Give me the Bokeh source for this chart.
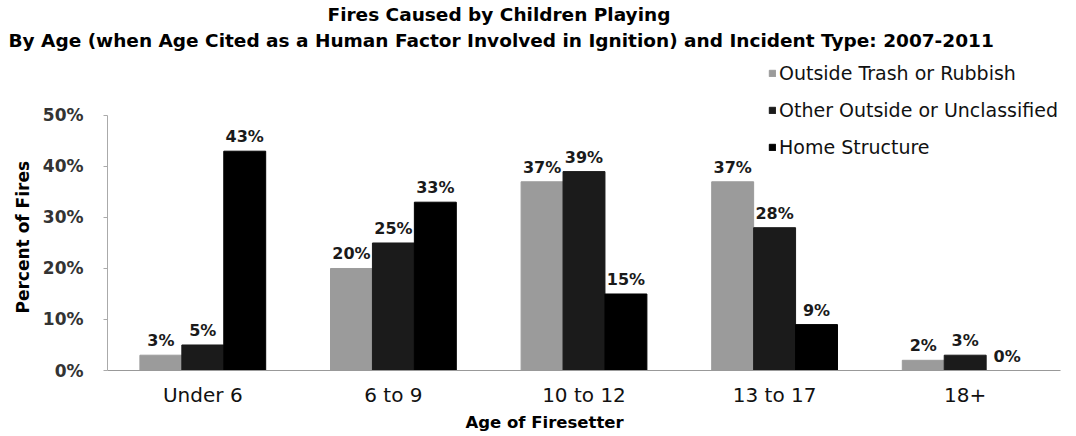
from bokeh.plotting import figure
from bokeh.models import (ColumnDataSource, FactorRange, Range1d, FixedTicker,
                          PrintfTickFormatter, Title, Legend, LegendItem)
from bokeh.transform import dodge
from bokeh.core.properties import value
from bokeh.embed import file_html
from bokeh.resources import INLINE

categories = ["Under 6", "6 to 9", "10 to 12", "13 to 17", "18+"]
series_names = ["Outside Trash or Rubbish", "Other Outside or Unclassified", "Home Structure"]
outside_trash = [3, 20, 37, 37, 2]
other_outside = [5, 25, 39, 28, 3]
home_structure = [43, 33, 15, 9, 0]
y_ticks = [0, 10, 20, 30, 40, 50]

colors = ["#9b9b9b", "#1b1b1b", "#000000"]
offsets = [-0.22, 0.0, 0.22]
series = [outside_trash, other_outside, home_structure]

FONT = "DejaVu Sans"
FRAME_TOP = 54.5
FRAME_BOTTOM = 370
Y_END = (FRAME_BOTTOM - FRAME_TOP) / 5.06

p = figure(x_range=FactorRange(*categories), y_range=Range1d(0, Y_END),
           width=1076, height=436, output_backend="svg", toolbar_location=None,
           min_border_left=107, min_border_right=16, min_border_top=0,
           min_border_bottom=66)
p.outline_line_color = None
p.xgrid.grid_line_color = None
p.ygrid.grid_line_color = None
p.background_fill_color = "white"

renderers = []
for name, vals, col, off in zip(series_names, series, colors, offsets):
    src = ColumnDataSource(dict(cat=categories, val=vals,
                                lab=[f"{v}%" for v in vals]))
    r = p.vbar(x=dodge("cat", off, range=p.x_range), top="val", width=0.22,
               source=src, fill_color=col, line_color=col)
    renderers.append((name, r))
    p.text(x=dodge("cat", off, range=p.x_range), y="val", text="lab", source=src,
           y_offset=-5, text_align="center", text_baseline="bottom",
           text_font=value(FONT), text_font_style="bold",
           text_font_size="16px", text_color="#1a1a1a")

# axes
p.yaxis.ticker = FixedTicker(ticks=y_ticks)
p.yaxis.bounds = (0, 50)
p.yaxis.formatter = PrintfTickFormatter(format="%d%%")
p.yaxis.axis_line_color = "#aaaaaa"
p.yaxis.major_tick_line_color = "#aaaaaa"
p.yaxis.major_tick_out = 4
p.yaxis.major_tick_in = 0
p.yaxis.minor_tick_line_color = None
p.yaxis.major_label_standoff = 20
p.yaxis.major_label_text_font = FONT
p.yaxis.major_label_text_font_style = "bold"
p.yaxis.major_label_text_font_size = "17px"
p.yaxis.major_label_text_color = "#333333"

p.xaxis.axis_line_color = "#999999"
p.xaxis.major_tick_line_color = None
p.xaxis.major_tick_out = 0
p.xaxis.major_tick_in = 0
p.xaxis.minor_tick_line_color = None
p.xaxis.major_label_standoff = 12
p.xaxis.major_label_text_font = FONT
p.xaxis.major_label_text_font_size = "20px"
p.xaxis.major_label_text_color = "#111111"

# titles (later-added "above" titles go on top)
p.add_layout(Title(text="By Age (when Age Cited as a Human Factor Involved in Ignition) and Incident Type: 2007-2011",
                   align="left", offset=-99, standoff=4,
                   text_font=FONT, text_font_style="bold", text_font_size="18.5px",
                   text_color="#000000"), "above")
p.add_layout(Title(text="Fires Caused by Children Playing",
                   align="left", offset=220, standoff=2,
                   text_font=FONT, text_font_style="bold", text_font_size="18.5px",
                   text_color="#000000"), "above")
p.add_layout(Title(text="Percent of Fires", align="left", offset=57, standoff=14,
                   text_font=FONT, text_font_style="bold", text_font_size="17px",
                   text_color="#000000"), "left")
p.add_layout(Title(text="Age of Firesetter", align="left", offset=358, standoff=3,
                   text_font=FONT, text_font_style="bold", text_font_size="16.5px",
                   text_color="#000000"), "below")

legend = Legend(items=[LegendItem(label=n, renderers=[r]) for n, r in renderers],
                location=(661, 212), orientation="vertical",
                glyph_width=8, glyph_height=8, label_standoff=3,
                spacing=15, padding=0, margin=0,
                label_text_font=FONT, label_text_font_size="19px",
                label_text_color="#111111", border_line_color=None,
                background_fill_alpha=0)
p.add_layout(legend)

open("out.html", "w").write(file_html(p, INLINE))
